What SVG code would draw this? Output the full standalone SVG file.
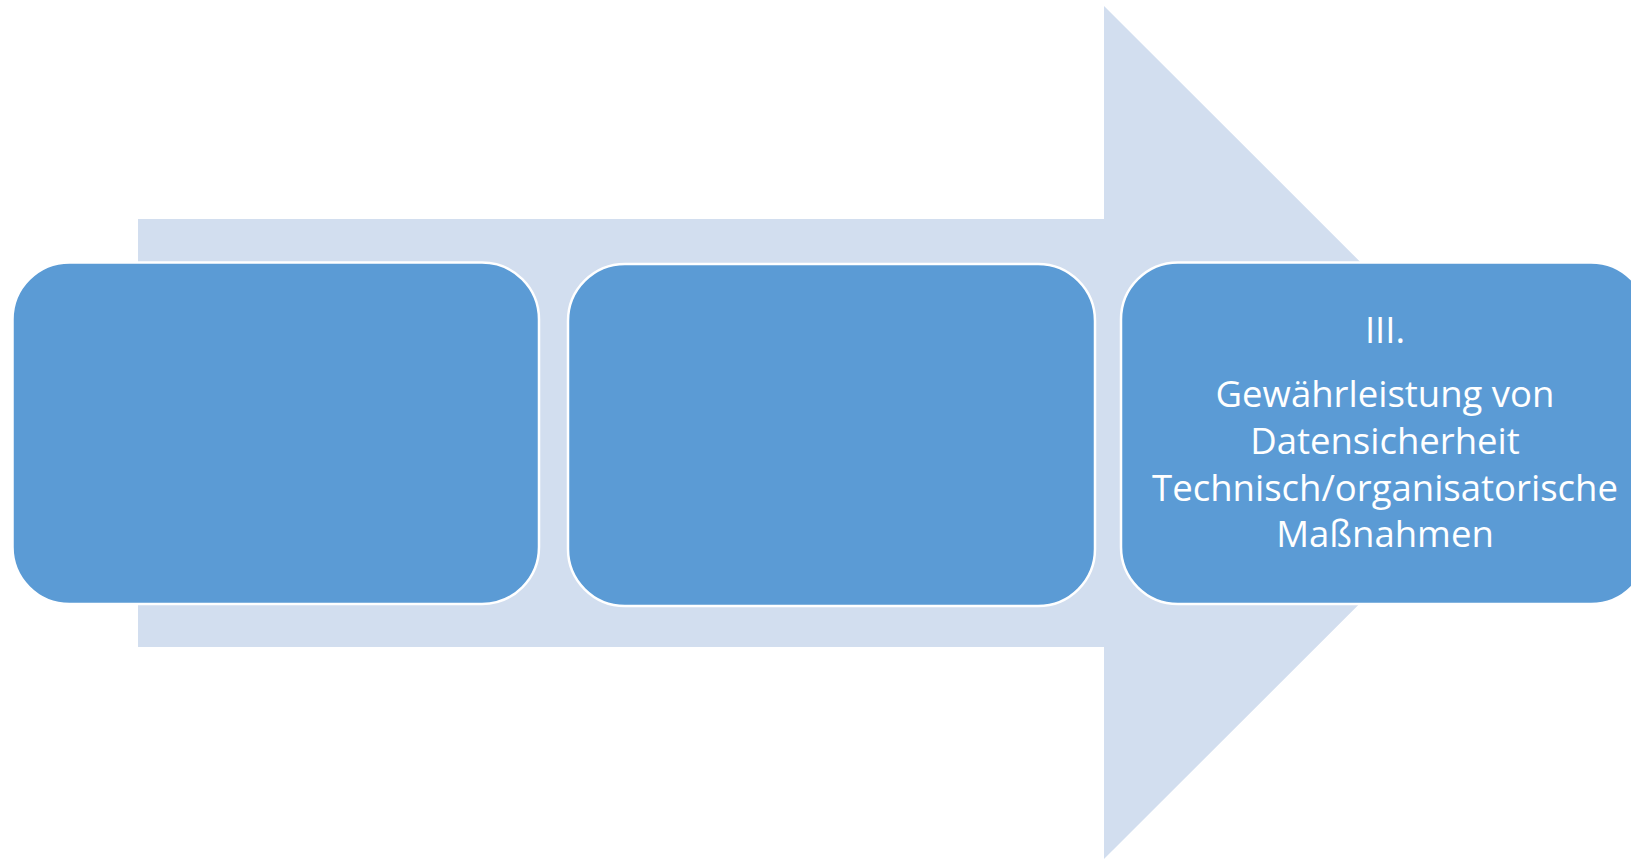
<svg xmlns="http://www.w3.org/2000/svg" width="1631" height="859" viewBox="0 0 1631 859">
<style>
.box{fill:#5B9BD5;stroke:#FFFFFF;stroke-width:2.5}
.lbl{font-family:"Open Sans","Noto Sans",sans-serif;font-size:36.5px;fill:#FFFFFF;text-anchor:middle}
</style>
<rect width="1631" height="859" fill="#FFFFFF"/>
<g id="arrow">
<polygon points="138,219 1104,219 1104,6 1531,432.5 1104,859 1104,647 138,647" fill="#D2DEEF"/>
</g>
<g id="connectors"></g>
<g id="node1">
<rect class="box" x="12.5" y="262.5" width="526.5" height="341.5" rx="57" ry="57"/>
</g>
<g id="node2">
<rect class="box" x="568" y="264" width="527" height="342" rx="57" ry="57"/>
</g>
<g id="node3">
<rect class="box" x="1121" y="262.5" width="527" height="341.5" rx="57" ry="57"/>
<text class="lbl" x="1385" y="343">III.</text>
<text class="lbl" x="1385" y="407">Gewährleistung von</text>
<text class="lbl" x="1385" y="454">Datensicherheit</text>
<text class="lbl" x="1385" y="501">Technisch/organisatorische</text>
<text class="lbl" x="1385" y="547">Maßnahmen</text>
</g>
</svg>
